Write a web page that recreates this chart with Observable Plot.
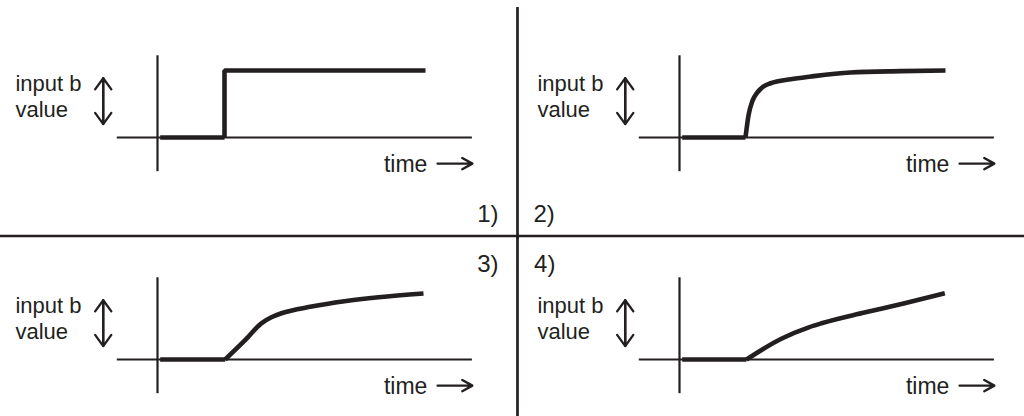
<!DOCTYPE html>
<html>
<head>
<meta charset="utf-8">
<script src="https://cdn.jsdelivr.net/npm/d3@7"></script>
<script src="https://cdn.jsdelivr.net/npm/@observablehq/plot@0.6"></script>
<style>
  html, body { margin: 0; padding: 0; background: #ffffff; }
  #chart { width: 1024px; height: 416px; }
</style>
</head>
<body>
<div id="chart"></div>
<script>
// ---- data (time / value units, per panel) ----
const panelIds  = ["1)", "2)", "3)", "4)"];
const panelCols = ["L", "R", "L", "R"];
const panelRows = ["T", "T", "B", "B"];

const time1  = [0.04, 1.0, 1.0, 4.0];
const value1 = [0, 0, 1, 1];

const time2  = [0.04, 0.985, 1.03, 1.09, 1.16, 1.25, 1.36, 1.66, 1.96, 2.55, 3.3, 3.97];
const value2 = [0, 0, 0.33, 0.55, 0.67, 0.76, 0.81, 0.87, 0.91, 0.97, 0.99, 1.0];

const time3  = [0.04, 1.01, 1.30, 1.55, 1.70, 1.85, 2.30, 2.79, 3.30, 3.97];
const value3 = [0, 0, 0.28, 0.54, 0.63, 0.69, 0.79, 0.87, 0.93, 0.985];

const time4  = [0.04, 1.0, 1.52, 1.93, 2.12, 2.76, 3.36, 3.96];
const value4 = [0, 0, 0.31, 0.48, 0.54, 0.70, 0.84, 0.99];

const yLabelLines = ["input b", "value"];
const xLabel = "time";

// ---- layout constants (in data units) ----
const ink = "#231f20";
const axisTime  = [-0.6, 4.7];     // extent of time axis line
const axisValue = [-0.51, 1.22];   // extent of value axis line
const timeArrow = {t1: 4.18, t2: 4.70, v: -0.39};
const valueArrow = {t: -0.81, v1: 0.20, v2: 0.885};
const xLabelPos = {t: 3.38, v: -0.52};
const yLabelPos = {t: -2.12, v: [0.69, 0.305]};

const times = [time1, time2, time3, time4];
const values = [value1, value2, value3, value4];

const panels = panelIds.map((id, i) => ({id, fx: panelCols[i], fy: panelRows[i]}));

// split each curve into the flat lead-in (straight) and the response (smooth)
const flatParts = panels.flatMap((p, i) =>
  times[i].slice(0, 2).map((t, j) => ({...p, t, v: values[i][j]})));
const stepPart = panels.slice(0, 1).flatMap((p, i) =>
  times[i].slice(1).map((t, j) => ({...p, t, v: values[i][j + 1]})));
const riseParts = panels.slice(1).flatMap((p, k) => {
  const i = k + 1;
  return times[i].slice(1).map((t, j) => ({...p, t, v: values[i][j + 1]}));
});

const yLabels = panels.flatMap(p => yLabelLines.map((text, j) => ({...p, text, v: yLabelPos.v[j]})));

// panel number labels, positioned around the divider cross
const numberLabels = [
  {id: "1)", fx: "L", fy: "T", t: 5.09,  v: -1.255, anchor: "end"},
  {id: "2)", fx: "R", fy: "T", t: -2.18, v: -1.255, anchor: "start"},
  {id: "3)", fx: "L", fy: "B", t: 5.09,  v: 1.31,  anchor: "end"},
  {id: "4)", fx: "R", fy: "B", t: -2.17, v: 1.31,  anchor: "start"}
];

// dividers between panels
const dividersV = [
  {fx: "L", fy: "T", t: 5.373, v1: 1.94, v2: -1.52},
  {fx: "L", fy: "B", t: 5.373, v1: 1.84, v2: -0.8507}
];
const dividersH = [
  {fx: "L", fy: "T", v: -1.47, t1: -2.3433, t2: 5.40},
  {fx: "R", fy: "T", v: -1.47, t1: -2.42, t2: 5.1493}
];

const font = "Liberation Sans, Arial, Helvetica, sans-serif";
const lineStyle = {x: "t", y: "v", z: "id", fx: "fx", fy: "fy", stroke: ink, strokeWidth: 4.6, strokeLinecap: "butt"};

const chart = Plot.plot({
  width: 1024,
  height: 416,
  margin: 0,
  facet: {marginTop: 0, marginRight: 0, marginBottom: 0, marginLeft: 0},
  style: {fontFamily: font, background: "#ffffff", color: ink, overflow: "visible"},
  fx: {domain: ["L", "R"], axis: null, paddingInner: 20 / 522, paddingOuter: 0, round: false},
  fy: {domain: ["T", "B"], axis: null, paddingInner: 28 / 222, paddingOuter: 0, round: false},
  x: {domain: [-157 / 67, 345 / 67], axis: null},
  y: {domain: [-57 / 67, 137 / 67], axis: null},
  marks: [
    // dividers
    Plot.ruleX(dividersV, {x: "t", y1: "v1", y2: "v2", fx: "fx", fy: "fy", stroke: ink, strokeWidth: 2.7}),
    Plot.ruleY(dividersH, {y: "v", x1: "t1", x2: "t2", fx: "fx", fy: "fy", stroke: ink, strokeWidth: 2.7}),
    // axes
    Plot.ruleX(panels, {x: () => 0, y1: () => axisValue[0], y2: () => axisValue[1], fx: "fx", fy: "fy", stroke: ink, strokeWidth: 2.2}),
    Plot.ruleY(panels, {y: () => 0, x1: () => axisTime[0], x2: () => axisTime[1], fx: "fx", fy: "fy", stroke: ink, strokeWidth: 2.2}),
    // curves
    Plot.line(flatParts, {...lineStyle, curve: "linear"}),
    Plot.line(stepPart, {...lineStyle, curve: "linear", strokeLinejoin: "miter"}),
    Plot.line(riseParts, {...lineStyle, curve: "monotone-x", strokeLinejoin: "round"}),
    // time arrow
    Plot.arrow(panels, {x1: () => timeArrow.t1, x2: () => timeArrow.t2, y1: () => timeArrow.v, y2: () => timeArrow.v, fx: "fx", fy: "fy", stroke: ink, strokeWidth: 2.3, headLength: 9, headAngle: 58}),
    // double-headed value arrow
    Plot.arrow(panels, {x1: () => valueArrow.t, x2: () => valueArrow.t, y1: () => valueArrow.v1, y2: () => valueArrow.v2, fx: "fx", fy: "fy", stroke: ink, strokeWidth: 2.3, headLength: 9, headAngle: 72}),
    Plot.arrow(panels, {x1: () => valueArrow.t, x2: () => valueArrow.t, y1: () => valueArrow.v2, y2: () => valueArrow.v1, fx: "fx", fy: "fy", stroke: ink, strokeWidth: 2.3, headLength: 9, headAngle: 72}),
    // labels
    Plot.text(panels, {x: () => xLabelPos.t, y: () => xLabelPos.v, text: () => xLabel, fx: "fx", fy: "fy", textAnchor: "start", lineAnchor: "bottom", fontSize: 23, fill: ink, fontFamily: font}),
    Plot.text(yLabels, {x: () => yLabelPos.t, y: "v", text: "text", fx: "fx", fy: "fy", textAnchor: "start", lineAnchor: "bottom", fontSize: 22, fill: ink, fontFamily: font}),
    Plot.text(numberLabels, {x: "t", y: "v", text: "id", fx: "fx", fy: "fy", textAnchor: "end", lineAnchor: "bottom", fontSize: 24, fill: ink, fontFamily: font, filter: d => d.anchor === "end"}),
    Plot.text(numberLabels, {x: "t", y: "v", text: "id", fx: "fx", fy: "fy", textAnchor: "start", lineAnchor: "bottom", fontSize: 24, fill: ink, fontFamily: font, filter: d => d.anchor === "start"})
  ]
});
document.getElementById("chart").appendChild(chart);
</script>
</body>
</html>
